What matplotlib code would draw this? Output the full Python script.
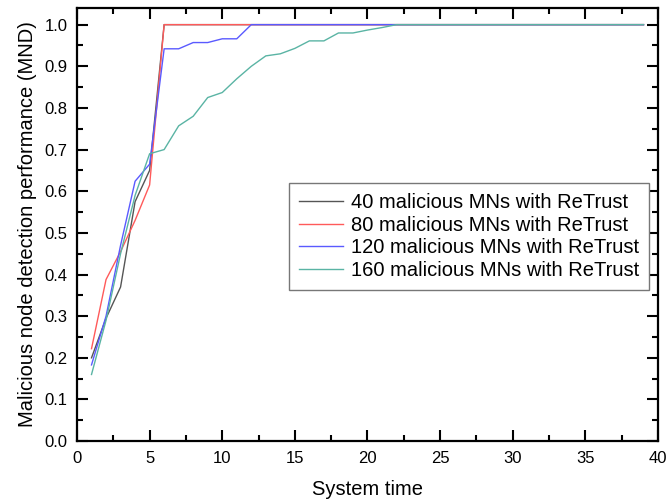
import matplotlib

matplotlib.use("Agg")
import matplotlib.pyplot as plt
from matplotlib.ticker import MultipleLocator, FormatStrFormatter

plt.rcParams["font.family"] = ["Liberation Sans", "DejaVu Sans"]

# system time steps 1..39
time = list(range(1, 40))

mns_40 = [0.20, 0.295, 0.37, 0.575, 0.65] + [1.0] * 34
mns_80 = [0.222, 0.388, 0.455, 0.53, 0.615] + [1.0] * 34
mns_120 = ([0.183, 0.30, 0.47, 0.624, 0.665,
            0.942, 0.942, 0.957, 0.957, 0.966, 0.966] + [1.0] * 28)
mns_160 = ([0.16, 0.29, 0.45, 0.59, 0.69,
            0.70, 0.757, 0.78, 0.825, 0.837, 0.87, 0.90, 0.925, 0.93,
            0.943, 0.961, 0.961, 0.98, 0.98, 0.987, 0.993] + [1.0] * 18)

labels = [
    "40 malicious MNs with ReTrust",
    "80 malicious MNs with ReTrust",
    "120 malicious MNs with ReTrust",
    "160 malicious MNs with ReTrust",
]
colors = ["#555555", "#ff5a5a", "#5a5aff", "#5ab4a4"]

fig = plt.figure(figsize=(6.66, 4.99), dpi=100)
ax = fig.add_axes([0.1156, 0.116, 0.8724, 0.868])

for ys, lab, col in zip([mns_40, mns_80, mns_120, mns_160], labels, colors):
    ax.plot(time, ys, color=col, lw=1.0, label=lab)

ax.set_xlim(0, 40)
ax.set_ylim(0, 1.04)
ax.xaxis.set_major_locator(MultipleLocator(5))
ax.xaxis.set_minor_locator(MultipleLocator(2.5))
ax.yaxis.set_major_locator(MultipleLocator(0.1))
ax.yaxis.set_minor_locator(MultipleLocator(0.05))
ax.yaxis.set_major_formatter(FormatStrFormatter("%.1f"))

ax.tick_params(which="both", direction="in", top=True, right=True,
               labelsize=12, width=1.5)
ax.tick_params(which="major", length=8, pad=7)
ax.tick_params(which="minor", length=4)
for sp in ax.spines.values():
    sp.set_linewidth(1.6)

ax.set_xlabel("System time", fontsize=14.5, labelpad=10)
ax.set_ylabel("Malicious node detection performance (MND)", fontsize=14.5,
              labelpad=5)

leg = ax.legend(loc="upper right", bbox_to_anchor=(0.985, 0.596),
                fontsize=14.5, fancybox=False, edgecolor="#777777",
                handlelength=2.2, handletextpad=0.4, labelspacing=0.18,
                borderpad=0.5, borderaxespad=0, framealpha=1)
leg.get_frame().set_linewidth(1.0)

fig.savefig("out.png", dpi=100)
plt.close(fig)
